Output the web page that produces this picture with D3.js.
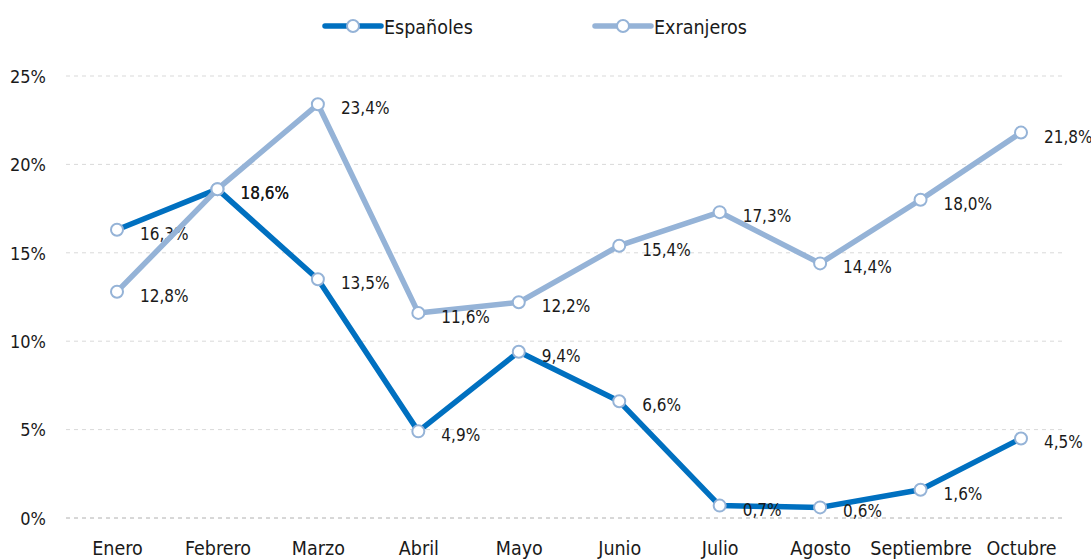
<!DOCTYPE html>
<html>
<head>
<meta charset="utf-8">
<script src="https://cdn.jsdelivr.net/npm/d3@7"></script>
<style>
  body { margin: 0; background: #fff; }
  svg text { font-family: "Liberation Sans Narrow", "DejaVu Sans Condensed", "Roboto", sans-serif; fill: #1a1a1a; }
</style>
</head>
<body>
<div class="chart"></div>
<script>
var months = ["Enero", "Febrero", "Marzo", "Abril", "Mayo", "Junio", "Julio", "Agosto", "Septiembre", "Octubre"];
var espanoles = [16.3, 18.6, 13.5, 4.9, 9.4, 6.6, 0.7, 0.6, 1.6, 4.5];
var extranjeros = [12.8, 18.6, 23.4, 11.6, 12.2, 15.4, 17.3, 14.4, 18.0, 21.8];
var yTicks = [0, 5, 10, 15, 20, 25];
var seriesNames = ["Españoles", "Exranjeros"];

var svgWidth = 1091;
var svgHeight = 560;

var svg = d3.select(".chart")
  .append("svg")
    .attr("width", svgWidth)
    .attr("height", svgHeight);

var xScale = d3.scalePoint()
  .domain(months)
  .range([117, 1021]);

var yScale = d3.scaleLinear()
  .domain([0, 25])
  .range([518, 76]);

// gridlines
svg.append("g")
  .selectAll("line")
  .data(yTicks)
  .enter().append("line")
    .attr("x1", 66)
    .attr("x2", 1062)
    .attr("y1", function(d) { return yScale(d); })
    .attr("y2", function(d) { return yScale(d); })
    .attr("stroke", function(d) { return d === 0 ? "#b0b0b0" : "#d9d9d9"; })
    .attr("stroke-width", 1)
    .attr("stroke-dasharray", "4,4");

// y axis labels
var leftAxis = d3.axisLeft(yScale)
  .tickValues(yTicks)
  .tickSize(0)
  .tickPadding(0)
  .tickFormat(function(d) { return d + "%"; });

var yAxisG = svg.append("g")
  .attr("transform", "translate(46,0)")
  .call(leftAxis);
yAxisG.select(".domain").remove();
yAxisG.selectAll("text")
  .attr("font-size", 18)
  .attr("dy", "0.35em")
  .style("fill", "#1a1a1a");

// x axis labels
var bottomAxis = d3.axisBottom(xScale).tickSize(0).tickPadding(0);
var xAxisG = svg.append("g")
  .attr("transform", "translate(0,541)")
  .call(bottomAxis);
xAxisG.select(".domain").remove();
xAxisG.selectAll("text")
  .attr("font-size", 19.5)
  .attr("dy", "0.71em")
  .style("fill", "#1a1a1a");

var line = d3.line()
  .x(function(d, i) { return xScale(months[i]); })
  .y(function(d) { return yScale(d); });

var colors = ["#0070c0", "#95b3d7"];
var data = [espanoles, extranjeros];

data.forEach(function(series, s) {
  var g = svg.append("g");
  g.append("path")
    .datum(series)
    .attr("d", line)
    .attr("fill", "none")
    .attr("stroke", colors[s])
    .attr("stroke-width", 5.5)
    .attr("stroke-linejoin", "round");

  g.selectAll("circle")
    .data(series)
    .enter().append("circle")
      .attr("cx", function(d, i) { return xScale(months[i]); })
      .attr("cy", function(d) { return yScale(d); })
      .attr("r", 6)
      .attr("fill", "#fff")
      .attr("stroke", "#95b3d7")
      .attr("stroke-width", 2);

  g.selectAll("text")
    .data(series)
    .enter().append("text")
      .attr("x", function(d, i) { return xScale(months[i]) + 23; })
      .attr("y", function(d) { return yScale(d) + 10; })
      .attr("font-size", 17)
      .text(function(d) { return d.toFixed(1).replace(".", ",") + "%"; });
});

// legend
var legendX = [325, 595];
seriesNames.forEach(function(name, s) {
  var lg = svg.append("g").attr("transform", "translate(" + legendX[s] + ",26)");
  lg.append("line")
    .attr("x1", 0).attr("x2", 56)
    .attr("y1", 0).attr("y2", 0)
    .attr("stroke", colors[s])
    .attr("stroke-width", 5.5)
    .attr("stroke-linecap", "round");
  lg.append("circle")
    .attr("cx", 28).attr("cy", 0).attr("r", 6)
    .attr("fill", "#fff")
    .attr("stroke", "#95b3d7")
    .attr("stroke-width", 2);
  lg.append("text")
    .attr("x", 59)
    .attr("y", 8)
    .attr("font-size", 19.5)
    .text(name);
});
</script>
</body>
</html>
